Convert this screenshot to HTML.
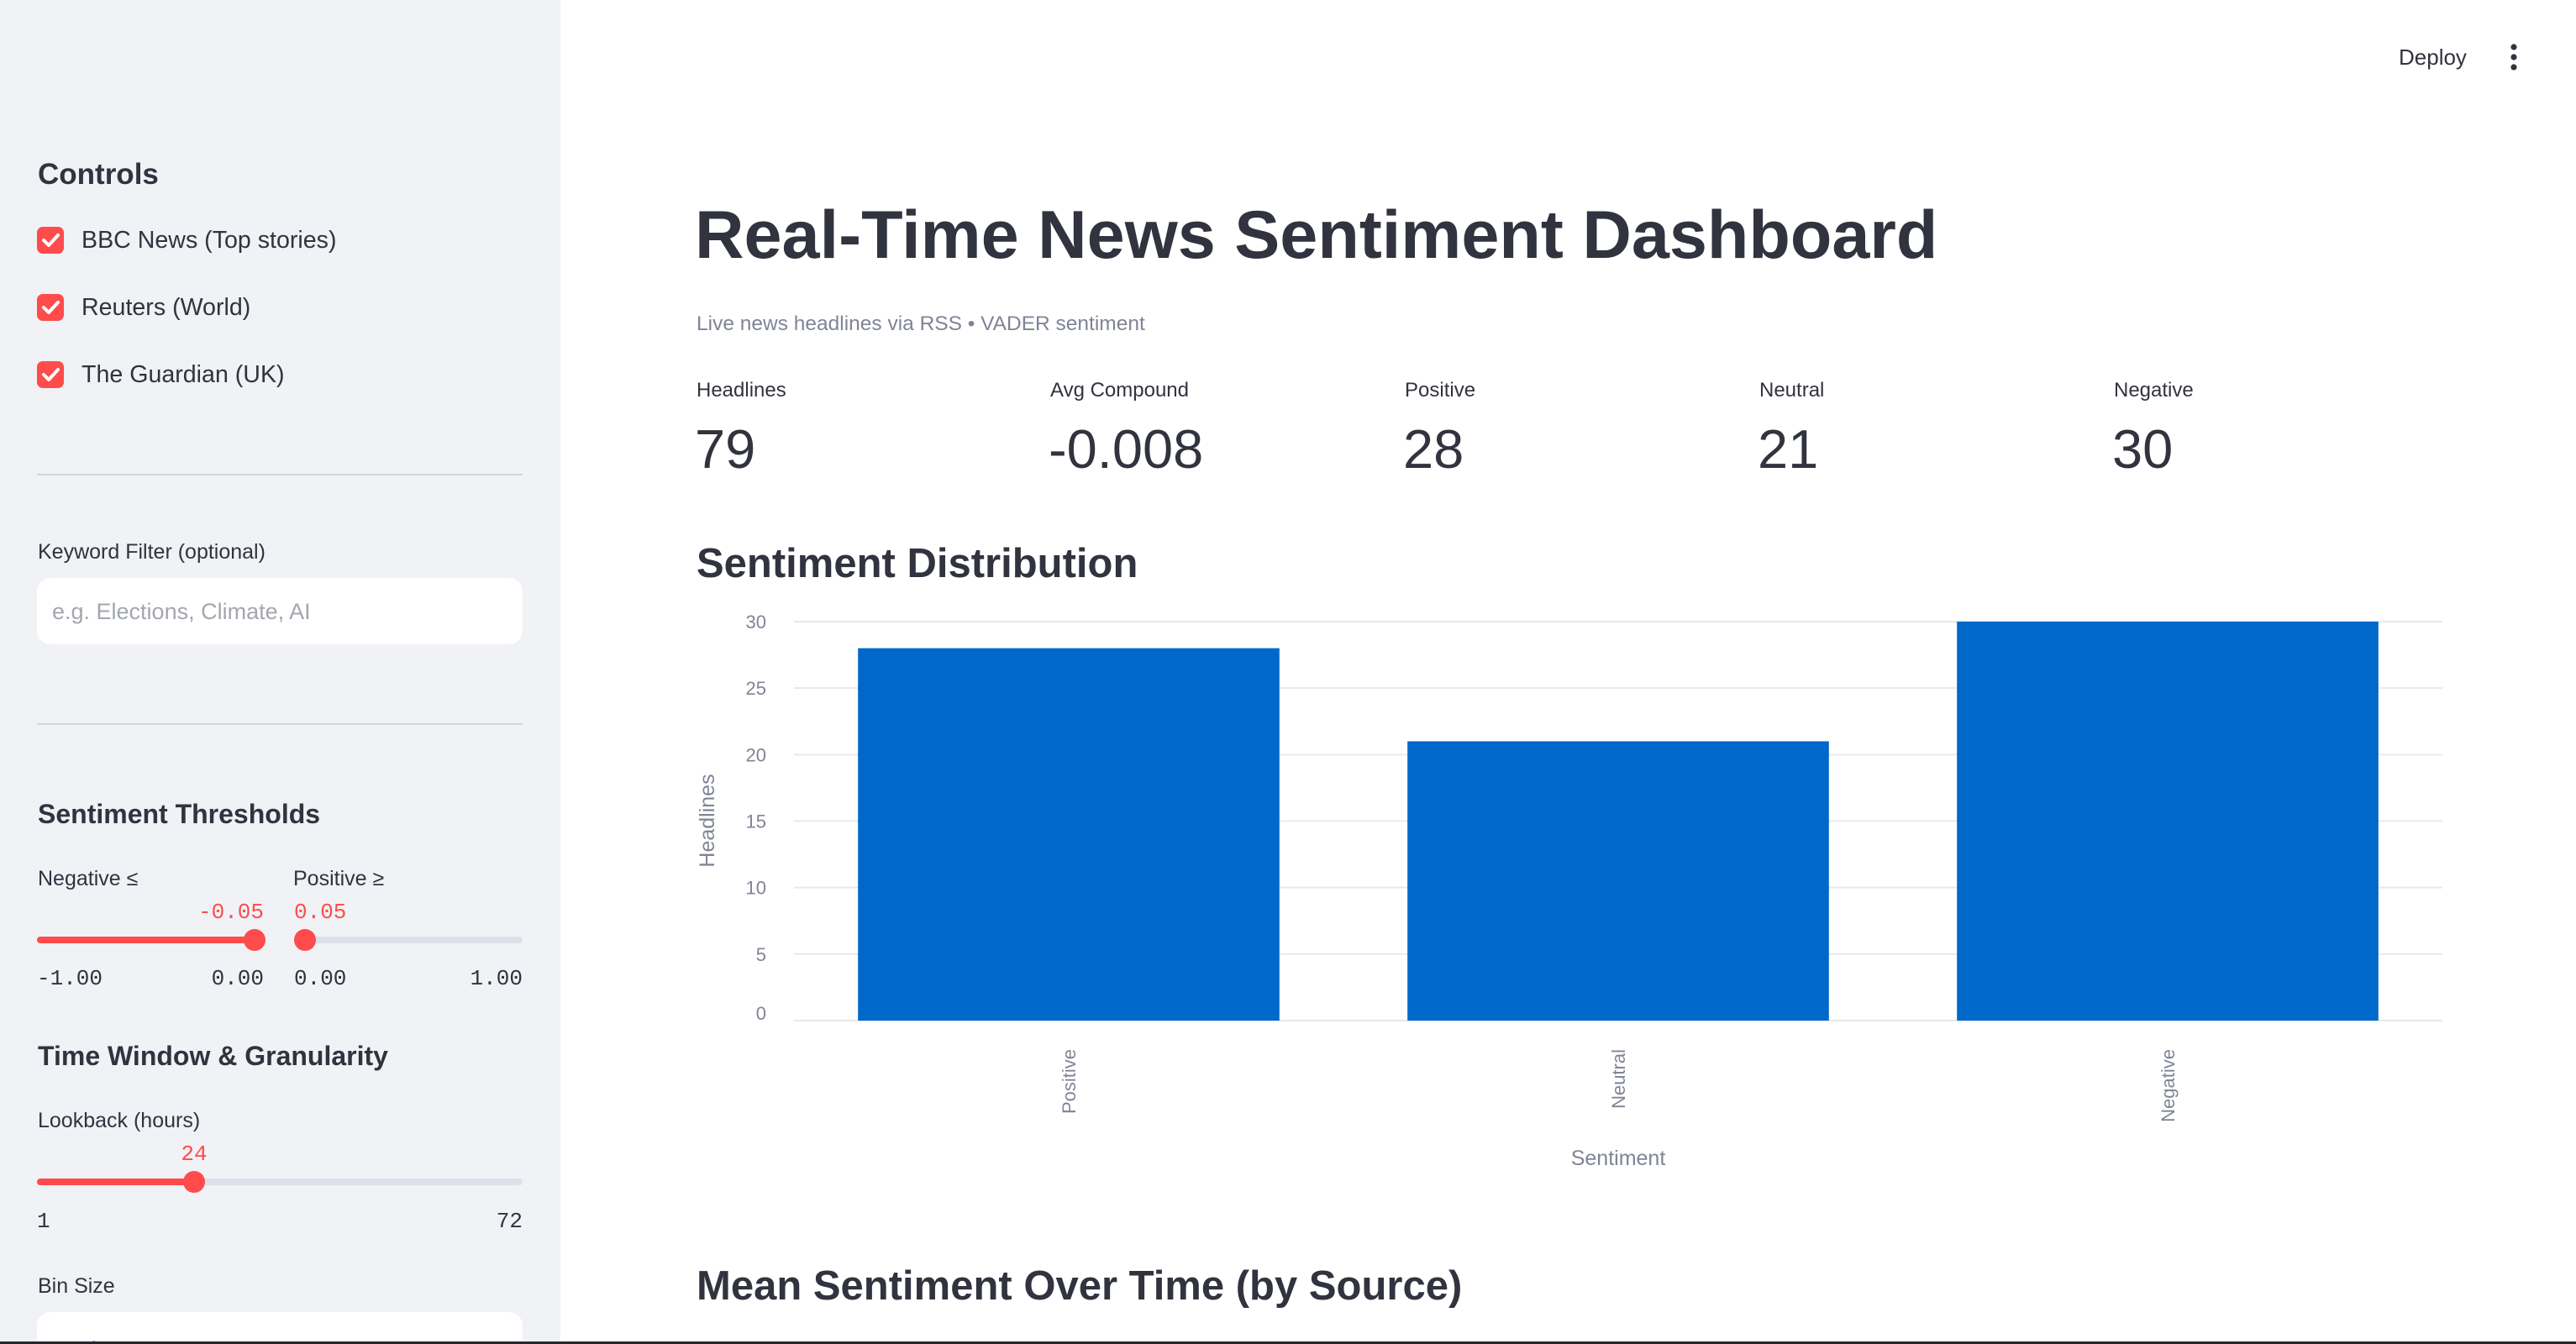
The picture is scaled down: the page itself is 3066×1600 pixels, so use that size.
<!DOCTYPE html>
<html><head><meta charset="utf-8">
<style>
*{margin:0;padding:0;box-sizing:border-box}
body{width:3066px;height:1600px;overflow:hidden;background:#fff;font-family:"Liberation Sans",sans-serif;color:#31333f;position:relative}
.a{position:absolute;white-space:nowrap}
.sb{position:absolute;left:0;top:0;width:667px;height:1600px;background:#f0f2f6;overflow:hidden}
.h{font-weight:bold;color:#31333f}
.cb{position:absolute;width:32px;height:32px;border-radius:7px;background:#ff4b4b}
.cb svg{position:absolute;left:0;top:0}
.mono{font-family:"Liberation Mono",monospace}
.thumb{position:absolute;width:26px;height:26px;border-radius:50%;background:#ff4b4b}
</style></head><body>
<div class="sb">
  <div class="a h" style="left:45px;top:187px;font-size:35px;line-height:42px">Controls</div>

  <div class="cb" style="left:44px;top:270px"><svg width="32" height="32"><path d="M8 16 L14 22 L25 10" stroke="#fff" stroke-width="4" fill="none" stroke-linecap="round" stroke-linejoin="round"/></svg></div>
  <div class="a" style="left:97px;top:268px;font-size:28.6px;line-height:36px">BBC News (Top stories)</div>
  <div class="cb" style="left:44px;top:350px"><svg width="32" height="32"><path d="M8 16 L14 22 L25 10" stroke="#fff" stroke-width="4" fill="none" stroke-linecap="round" stroke-linejoin="round"/></svg></div>
  <div class="a" style="left:97px;top:348px;font-size:28.6px;line-height:36px">Reuters (World)</div>
  <div class="cb" style="left:44px;top:430px"><svg width="32" height="32"><path d="M8 16 L14 22 L25 10" stroke="#fff" stroke-width="4" fill="none" stroke-linecap="round" stroke-linejoin="round"/></svg></div>
  <div class="a" style="left:97px;top:428px;font-size:28.6px;line-height:36px">The Guardian (UK)</div>

  <div class="a" style="left:44px;top:564px;width:578px;height:2px;background:#d3d4d8"></div>

  <div class="a" style="left:45px;top:642px;font-size:25px;line-height:30px">Keyword Filter (optional)</div>
  <div class="a" style="left:44px;top:688px;width:578px;height:79px;background:#fff;border-radius:16px"></div>
  <div class="a" style="left:62px;top:711px;font-size:27px;line-height:34px;color:#a3a6ae">e.g. Elections, Climate, AI</div>

  <div class="a" style="left:44px;top:861px;width:578px;height:2px;background:#d3d4d8"></div>

  <div class="a h" style="left:45px;top:949px;font-size:32px;line-height:40px">Sentiment Thresholds</div>
  <div class="a" style="left:45px;top:1031px;font-size:25px;line-height:30px">Negative ≤</div>
  <div class="a" style="left:349px;top:1031px;font-size:25px;line-height:30px">Positive ≥</div>
  <div class="a mono" style="left:214px;width:100px;text-align:right;top:1071px;font-size:26px;line-height:30px;color:#ff4b4b">-0.05</div>
  <div class="a mono" style="left:350px;top:1071px;font-size:26px;line-height:30px;color:#ff4b4b">0.05</div>
  <div class="a" style="left:44px;top:1115px;width:260px;height:8px;border-radius:4px;background:#ff4b4b"></div>
  <div class="thumb" style="left:290px;top:1106px"></div>
  <div class="a" style="left:350px;top:1115px;width:272px;height:8px;border-radius:4px;background:#dde0e8"></div>
  <div class="thumb" style="left:350px;top:1106px"></div>
  <div class="a mono" style="left:44px;top:1150px;font-size:26px;line-height:30px">-1.00</div>
  <div class="a mono" style="left:214px;width:100px;text-align:right;top:1150px;font-size:26px;line-height:30px">0.00</div>
  <div class="a mono" style="left:350px;top:1150px;font-size:26px;line-height:30px">0.00</div>
  <div class="a mono" style="left:522px;width:100px;text-align:right;top:1150px;font-size:26px;line-height:30px">1.00</div>

  <div class="a h" style="left:45px;top:1237px;font-size:32px;line-height:40px">Time Window &amp; Granularity</div>
  <div class="a" style="left:45px;top:1319px;font-size:25px;line-height:30px">Lookback (hours)</div>
  <div class="a mono" style="left:181px;width:100px;text-align:center;top:1359px;font-size:26px;line-height:30px;color:#ff4b4b">24</div>
  <div class="a" style="left:44px;top:1403px;width:578px;height:8px;border-radius:4px;background:#dde0e8"></div>
  <div class="a" style="left:44px;top:1403px;width:187px;height:8px;border-radius:4px;background:#ff4b4b"></div>
  <div class="thumb" style="left:218px;top:1394px"></div>
  <div class="a mono" style="left:44px;top:1439px;font-size:26px;line-height:30px">1</div>
  <div class="a mono" style="left:522px;width:100px;text-align:right;top:1439px;font-size:26px;line-height:30px">72</div>
  <div class="a" style="left:45px;top:1516px;font-size:25px;line-height:30px">Bin Size</div>
  <div class="a" style="left:44px;top:1562px;width:578px;height:80px;background:#fff;border-radius:16px"></div>
  <div class="a" style="left:64px;top:1590px;font-size:27px;line-height:34px">5 min</div>
</div>

<div class="a" style="left:2855px;top:52px;font-size:26px;line-height:32px">Deploy</div>
<svg class="a" style="left:2984px;top:48px" width="16" height="40"><circle cx="8" cy="8" r="3.6" fill="#31333f"/><circle cx="8" cy="20" r="3.6" fill="#31333f"/><circle cx="8" cy="32" r="3.6" fill="#31333f"/></svg>

<div class="a h" style="left:827px;top:230px;font-size:81px;line-height:100px">Real-Time News Sentiment Dashboard</div>
<div class="a" style="left:829px;top:371px;font-size:24.5px;line-height:30px;color:#808495">Live news headlines via RSS • VADER sentiment</div>

<div class="a" style="left:829px;top:450px;font-size:24px;line-height:30px">Headlines</div>
<div class="a" style="left:827px;top:499px;font-size:65px;line-height:72px">79</div>
<div class="a" style="left:1250px;top:450px;font-size:24px;line-height:30px">Avg Compound</div>
<div class="a" style="left:1248px;top:499px;font-size:65px;line-height:72px">-0.008</div>
<div class="a" style="left:1672px;top:450px;font-size:24px;line-height:30px">Positive</div>
<div class="a" style="left:1670px;top:499px;font-size:65px;line-height:72px">28</div>
<div class="a" style="left:2094px;top:450px;font-size:24px;line-height:30px">Neutral</div>
<div class="a" style="left:2092px;top:499px;font-size:65px;line-height:72px">21</div>
<div class="a" style="left:2516px;top:450px;font-size:24px;line-height:30px">Negative</div>
<div class="a" style="left:2514px;top:499px;font-size:65px;line-height:72px">30</div>

<div class="a h" style="left:829px;top:641px;font-size:49px;line-height:60px">Sentiment Distribution</div>

<svg id="chart" class="a" style="left:0;top:0" width="3066" height="1600"></svg>

<div class="a h" style="left:829px;top:1501px;font-size:49px;line-height:60px">Mean Sentiment Over Time (by Source)</div>

<div class="a" style="left:0;top:1597px;width:3066px;height:3px;background:#262730"></div>

<script>
const categories = ["Positive", "Neutral", "Negative"];
const counts = [28, 21, 30];
const yTicks = [0, 5, 10, 15, 20, 25, 30];

const NS = "http://www.w3.org/2000/svg";
const svg = document.getElementById("chart");
const plotL = 945, plotR = 2907, plotT = 740, plotB = 1215;
const yMax = 30;
function yScale(v){ return plotB - (v / yMax) * (plotB - plotT); }
const band = (plotR - plotL) / categories.length;
function xCenter(i){ return plotL + band * (i + 0.5); }
const barW = band * 0.767;

function mk(tag, attrs){ const e = document.createElementNS(NS, tag); for (const k in attrs) e.setAttribute(k, attrs[k]); svg.appendChild(e); return e; }

yTicks.forEach(function(t){
  const g = mk("line", {x1: plotL, x2: plotR, y1: yScale(t), y2: yScale(t), stroke: "#e6e9ef", "stroke-width": 2});
  
  
  const lb = mk("text", {x: 912, y: yScale(t) + (t === 0 ? -1 : 8), "text-anchor": "end", "font-size": 22, fill: "#808495", "font-family": "Liberation Sans, sans-serif"});
  lb.textContent = t;
  
  
});

counts.forEach(function(v, i){
  const r = mk("rect", {x: xCenter(i) - barW / 2, y: yScale(v), width: barW, height: yScale(0) - yScale(v), fill: "#0068c9"});
  
  
  const cx = xCenter(i), cy = 1249;
  const t = mk("text", {x: cx + 8, y: cy, "text-anchor": "end", "font-size": 22, fill: "#808495", "font-family": "Liberation Sans, sans-serif", transform: "rotate(-90 " + (cx + 8) + " " + cy + ")"});
  t.textContent = categories[i];
  
  
});

const yt = mk("text", {x: 850, y: 977, "text-anchor": "middle", "font-size": 25, fill: "#808495", "font-family": "Liberation Sans, sans-serif", transform: "rotate(-90 850 977)"});
yt.textContent = "Headlines";


const xt = mk("text", {x: 1926, y: 1387, "text-anchor": "middle", "font-size": 25, fill: "#808495", "font-family": "Liberation Sans, sans-serif"});
xt.textContent = "Sentiment";


</script>
</body></html>
